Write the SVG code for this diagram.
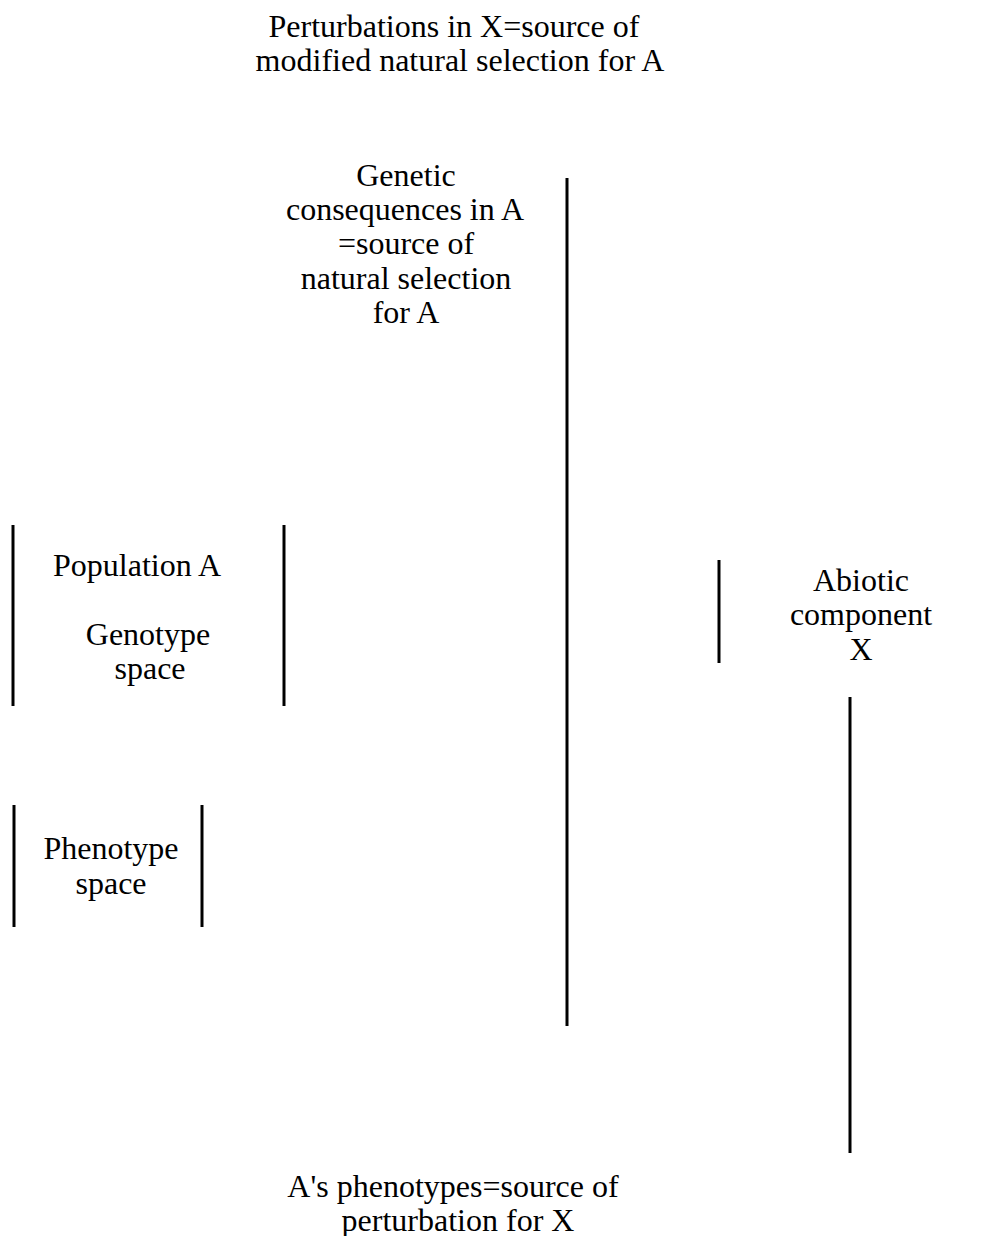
<svg xmlns="http://www.w3.org/2000/svg" width="990" height="1236" viewBox="0 0 990 1236">
  <style>
    text { font-family: "Liberation Serif", "Times New Roman", serif; font-size: 32px; fill: #000; text-anchor: middle; }
    .bar { stroke: #000; stroke-width: 3; fill: none; }
  </style>
  <rect width="990" height="1236" fill="#fff"/>

  <g id="perturbations-x">
    <text x="454" y="37">Perturbations in X=source of</text>
    <text x="460" y="71">modified natural selection for A</text>
  </g>

  <g id="genetic-consequences">
    <text x="406" y="186">Genetic</text>
    <text x="405" y="220">consequences in A</text>
    <text x="406" y="254">=source of</text>
    <text x="406" y="289">natural selection</text>
    <text x="406" y="323">for A</text>
  </g>

  <g id="population-a">
    <line class="bar" x1="13" y1="525" x2="13" y2="706"/>
    <line class="bar" x1="284" y1="525" x2="284" y2="706"/>
    <text x="137" y="576">Population A</text>
    <text x="148" y="645">Genotype</text>
    <text x="150" y="679">space</text>
  </g>

  <g id="phenotype-space">
    <line class="bar" x1="14" y1="805" x2="14" y2="927"/>
    <line class="bar" x1="202" y1="805" x2="202" y2="927"/>
    <text x="111" y="859">Phenotype</text>
    <text x="111" y="894">space</text>
  </g>

  <g id="abiotic-x">
    <line class="bar" x1="719" y1="560" x2="719" y2="663"/>
    <text x="861" y="591">Abiotic</text>
    <text x="861" y="625">component</text>
    <text x="861" y="660">X</text>
  </g>

  <g id="phenotypes-source">
    <text x="453" y="1197">A's phenotypes=source of</text>
    <text x="458" y="1231">perturbation for X</text>
  </g>

  <g id="connectors">
    <line class="bar" x1="567" y1="178" x2="567" y2="1026"/>
    <line class="bar" x1="850" y1="697" x2="850" y2="1153"/>
  </g>
</svg>
